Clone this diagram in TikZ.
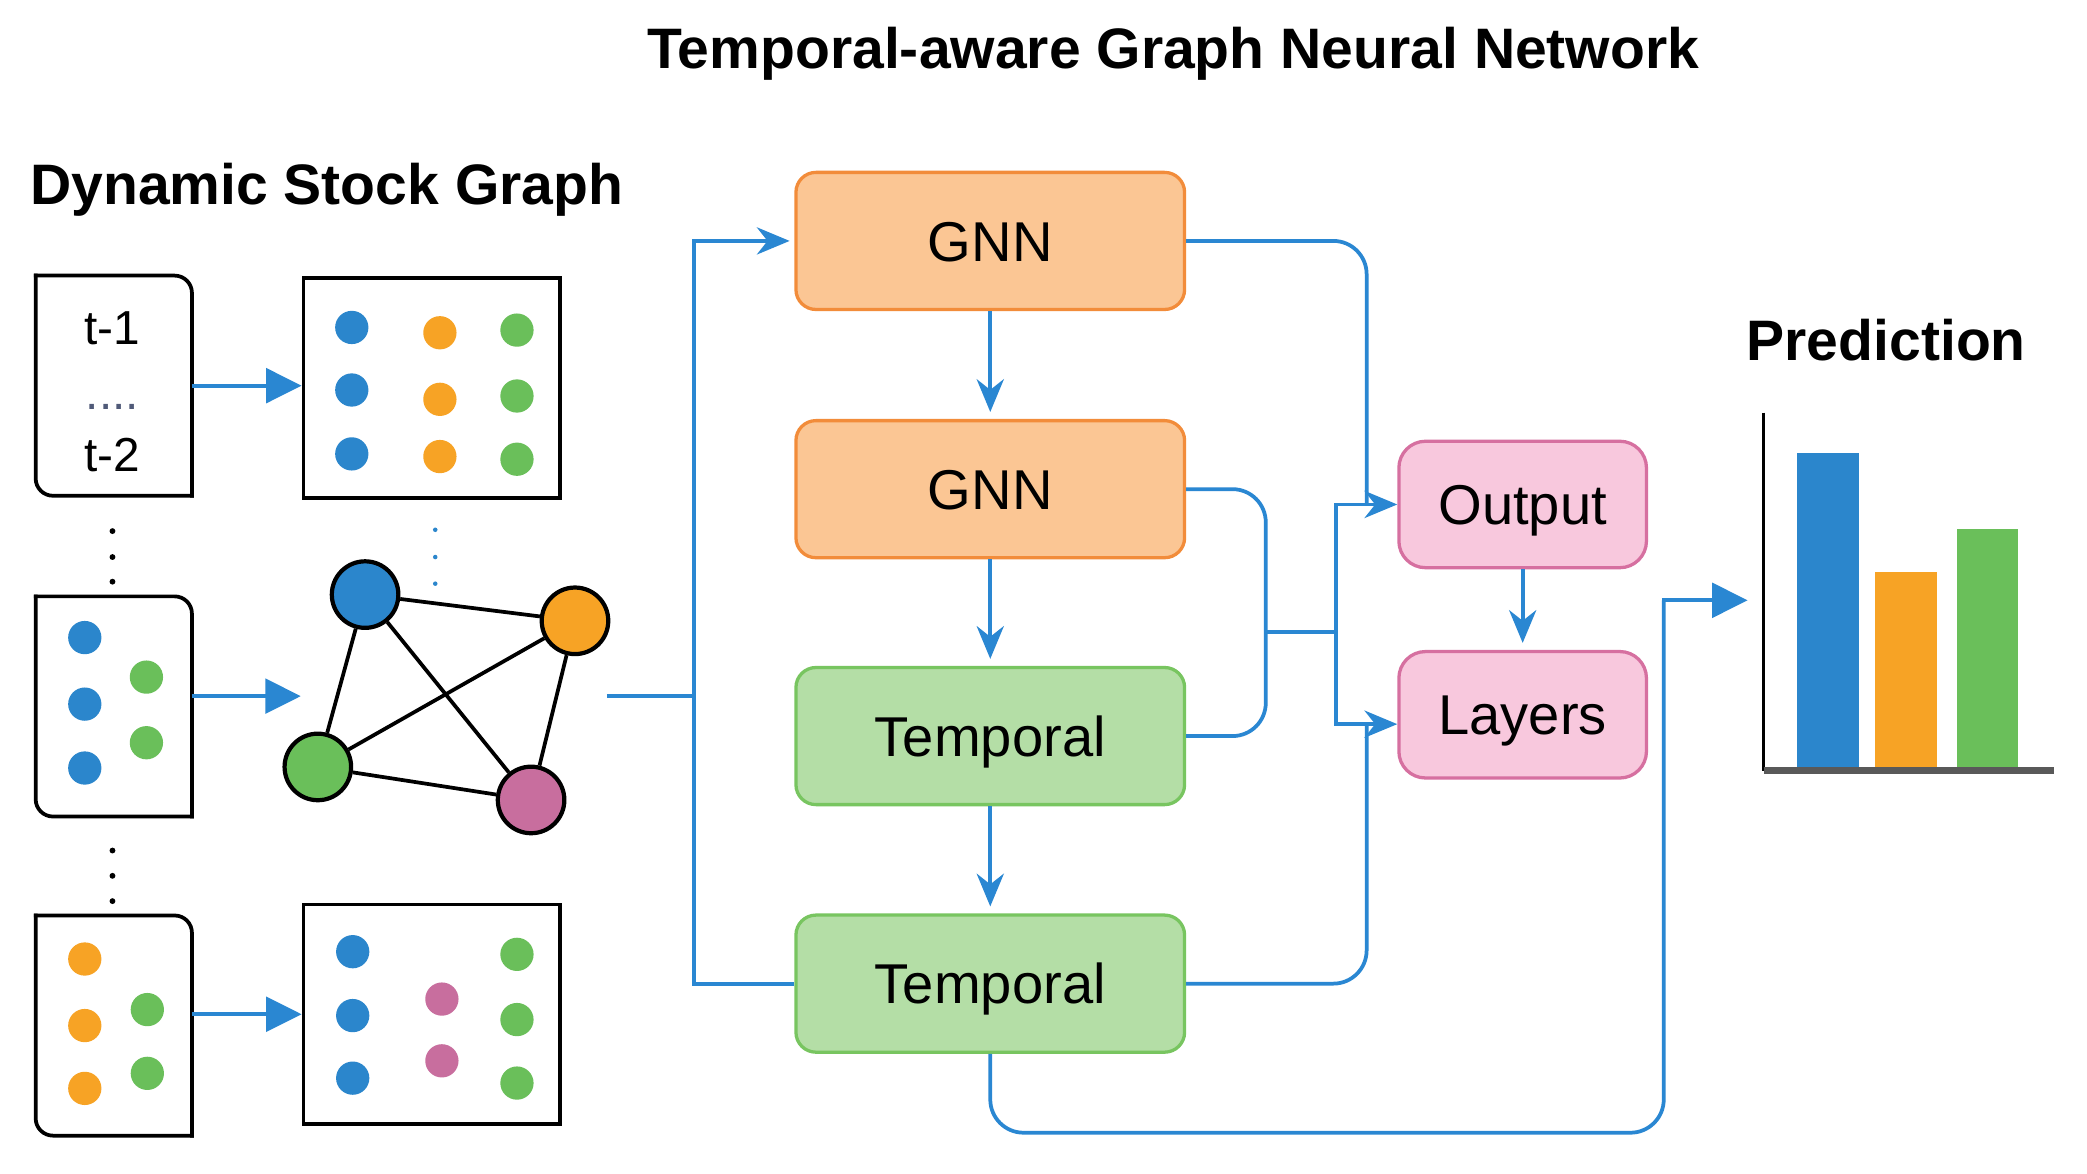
\documentclass[tikz,border=0pt]{standalone}
\usepackage{fontspec}
\setmainfont{Liberation Sans}
\usetikzlibrary{arrows.meta}

\definecolor{linkblue}{RGB}{42,135,210}
\definecolor{gnnfill}{RGB}{251,198,148}
\definecolor{gnnline}{RGB}{242,140,58}
\definecolor{tmpfill}{RGB}{180,222,166}
\definecolor{tmpline}{RGB}{120,197,96}
\definecolor{pinkfill}{RGB}{248,200,221}
\definecolor{pinkline}{RGB}{214,112,160}
\definecolor{cblue}{RGB}{43,134,204}
\definecolor{corange}{RGB}{247,163,37}
\definecolor{cgreen}{RGB}{106,191,90}
\definecolor{cpink}{RGB}{200,110,158}
\definecolor{dotgray}{RGB}{80,90,120}

\begin{document}
\begin{tikzpicture}[x=1cm,y=-1cm,
    flow/.style={draw=linkblue, thick},
    arr/.style={-{Stealth[length=7pt,width=5.8pt]}},
    bigarr/.style={-{Triangle[length=7.6pt,width=7.4pt]}},
    stage/.style={draw, rounded corners=0.15cm, line width=0.7pt, minimum width=2.92cm,
      minimum height=1.03cm, text height=8.6pt, text depth=0pt, font=\fontsize{12}{14}\selectfont},
    gnn/.style={stage, fill=gnnfill, draw=gnnline},
    tmp/.style={stage, fill=tmpfill, draw=tmpline},
    pinkbox/.style={stage, fill=pinkfill, draw=pinkline, rounded corners=0.2cm,
      minimum width=1.86cm, minimum height=0.95cm},
    gnode/.style={circle, draw=black, line width=0.9pt, minimum size=0.5cm, inner sep=0pt},
    stepframe/.style={minimum width=1.16cm, minimum height=1.64cm, inner sep=0pt},
    dotbox/.style={draw, thick, minimum width=1.93cm, minimum height=1.65cm, inner sep=0pt},
    tlabel/.style={font=\fontsize{10.2}{12}\selectfont, inner sep=0pt},
    heading/.style={font=\bfseries\fontsize{12.2}{14}\selectfont, inner sep=0pt}]
    \useasboundingbox (0,0) rectangle (15.68,8.82);
    \fill[white] (0,0) rectangle (15.68,8.82);

    % Titles
    \node[heading, anchor=base] (title) at (8.815,0.513) {Temporal-aware Graph Neural Network};
    \node[heading, anchor=base west] (dsg) at (0.22,1.538) {Dynamic Stock Graph};
    \node[heading, anchor=base west] (pred) at (13.116,2.71) {Prediction};

    % Dynamic stock graph: time steps
    \node[stepframe] (fa) at (0.855,2.8975) {};
    \node[stepframe] (fb) at (0.855,5.3075) {};
    \node[stepframe] (fc) at (0.855,7.705) {};
    \foreach \f in {fa,fb,fc} {
      \draw[thick, line cap=rect, rounded corners=0.13cm] (\f.north west) -- (\f.north east) -- (\f.south east);
      \draw[thick, line cap=rect, rounded corners=0.13cm] (\f.south east) -- (\f.south west) -- (\f.north west);
    }
    \node[tlabel] (t1) at (0.845,2.465) {t-1};
    \node[tlabel, anchor=base, text=dotgray] (tdots) at (0.845,3.08) {....};
    \node[tlabel] (t2) at (0.845,3.415) {t-2};
    \foreach \y in {3.99,4.185,4.37,6.39,6.58,6.77}
      \fill (0.845,\y) circle (0.022);
    \foreach \x/\y/\c in {0.637/4.79/cblue, 0.637/5.29/cblue, 0.637/5.77/cblue,
        1.10/5.087/cgreen, 1.10/5.58/cgreen,
        0.637/7.205/corange, 0.637/7.705/corange, 0.637/8.177/corange,
        1.107/7.585/cgreen, 1.107/8.064/cgreen}
      \fill[\c] (\x,\y) circle (0.125);

    % Stock snapshots
    \node[dotbox] (g1) at (3.245,2.915) {};
    \node[dotbox] (g3) at (3.245,7.62) {};
    \foreach \x/\y/\c in {2.643/2.46/cblue, 2.643/2.93/cblue, 2.643/3.41/cblue,
        3.305/2.50/corange, 3.305/3.00/corange, 3.305/3.43/corange,
        3.884/2.48/cgreen, 3.884/2.975/cgreen, 3.884/3.45/cgreen,
        2.65/7.15/cblue, 2.65/7.63/cblue, 2.65/8.10/cblue,
        3.32/7.506/cpink, 3.32/7.97/cpink,
        3.884/7.17/cgreen, 3.884/7.66/cgreen, 3.884/8.137/cgreen}
      \fill[\c] (\x,\y) circle (0.125);
    \foreach \y in {3.98,4.185,4.385}
      \fill[cblue] (3.27,\y) circle (0.017);

    % Stock graph
    \node[gnode, fill=cblue] (nb) at (2.743,4.467) {};
    \node[gnode, fill=corange] (no) at (4.32,4.664) {};
    \node[gnode, fill=cgreen] (ng) at (2.388,5.762) {};
    \node[gnode, fill=cpink] (np) at (3.99,6.01) {};
    \foreach \a/\b in {nb/no, nb/ng, nb/np, no/ng, no/np, ng/np}
      \draw[thick] (\a) -- (\b);

    \coordinate (gin) at (2.26,5.23);
    \draw[flow, bigarr] (fa.east) -- (fa.east -| g1.west);
    \draw[flow, bigarr] (fb.east |- gin) -- (gin);
    \draw[flow, bigarr] (fc.east |- g3.west) -- (g3.west);

    % Temporal-aware GNN
    \node[gnn] (gnn1) at (7.44,1.81) {GNN};
    \node[gnn] (gnn2) at (7.44,3.675) {GNN};
    \node[tmp] (tmp1) at (7.44,5.53) {Temporal};
    \node[tmp] (tmp2) at (7.44,7.39) {Temporal};
    \node[pinkbox] (out) at (11.44,3.79) {Output};
    \node[pinkbox] (lay) at (11.44,5.37) {Layers};
    \foreach \a/\b in {gnn1/gnn2, gnn2/tmp1, tmp1/tmp2, out/lay}
      \draw[flow, arr, shorten >=1.5pt] (\a) -- (\b);

    \coordinate (gout) at (4.56,5.23);
    \coordinate (trunk) at (5.215,5.23);
    \draw[flow] (gout) -- (trunk);
    \draw[flow, arr, shorten >=1pt] (tmp2.west) -| (trunk |- gnn1.west) -- (gnn1.west);

    \coordinate (mid) at (9.51,4.747);
    \coordinate (split) at (10.037,4.747);
    \draw[flow, rounded corners=0.25cm] (gnn1.east) -| ([xshift=-0.23cm]out.west);
    \draw[flow, rounded corners=0.25cm] (gnn2.east) -| (mid) |- (tmp1.east);
    \draw[flow] (mid) -- (split);
    \draw[flow, arr] (split) |- (out.west);
    \draw[flow, arr] (split) |- ([yshift=-2pt]lay.west);
    \draw[flow, rounded corners=0.25cm] (tmp2.east) -| ([xshift=-0.23cm,yshift=-2pt]lay.west);

    % Prediction
    \coordinate (riser) at (12.5,4.51);
    \coordinate (chin) at (13.13,4.51);
    \draw[flow, rounded corners=0.25cm] (tmp2.south) |- (12.5,8.51) -- (riser);
    \draw[flow, bigarr] ([xshift=-0.015cm]riser) -- (chin);
    \draw[line width=0.6pt] (13.25,3.10) -- (13.25,5.79);
    \foreach \x/\top/\c in {13.50/3.40/cblue, 14.09/4.30/corange, 14.70/3.975/cgreen}
      \fill[\c] (\x,\top) rectangle (\x+0.465,5.785);
    \draw[line width=1.4pt, black!65] (13.25,5.79) -- (15.43,5.79);
\end{tikzpicture}
\end{document}
